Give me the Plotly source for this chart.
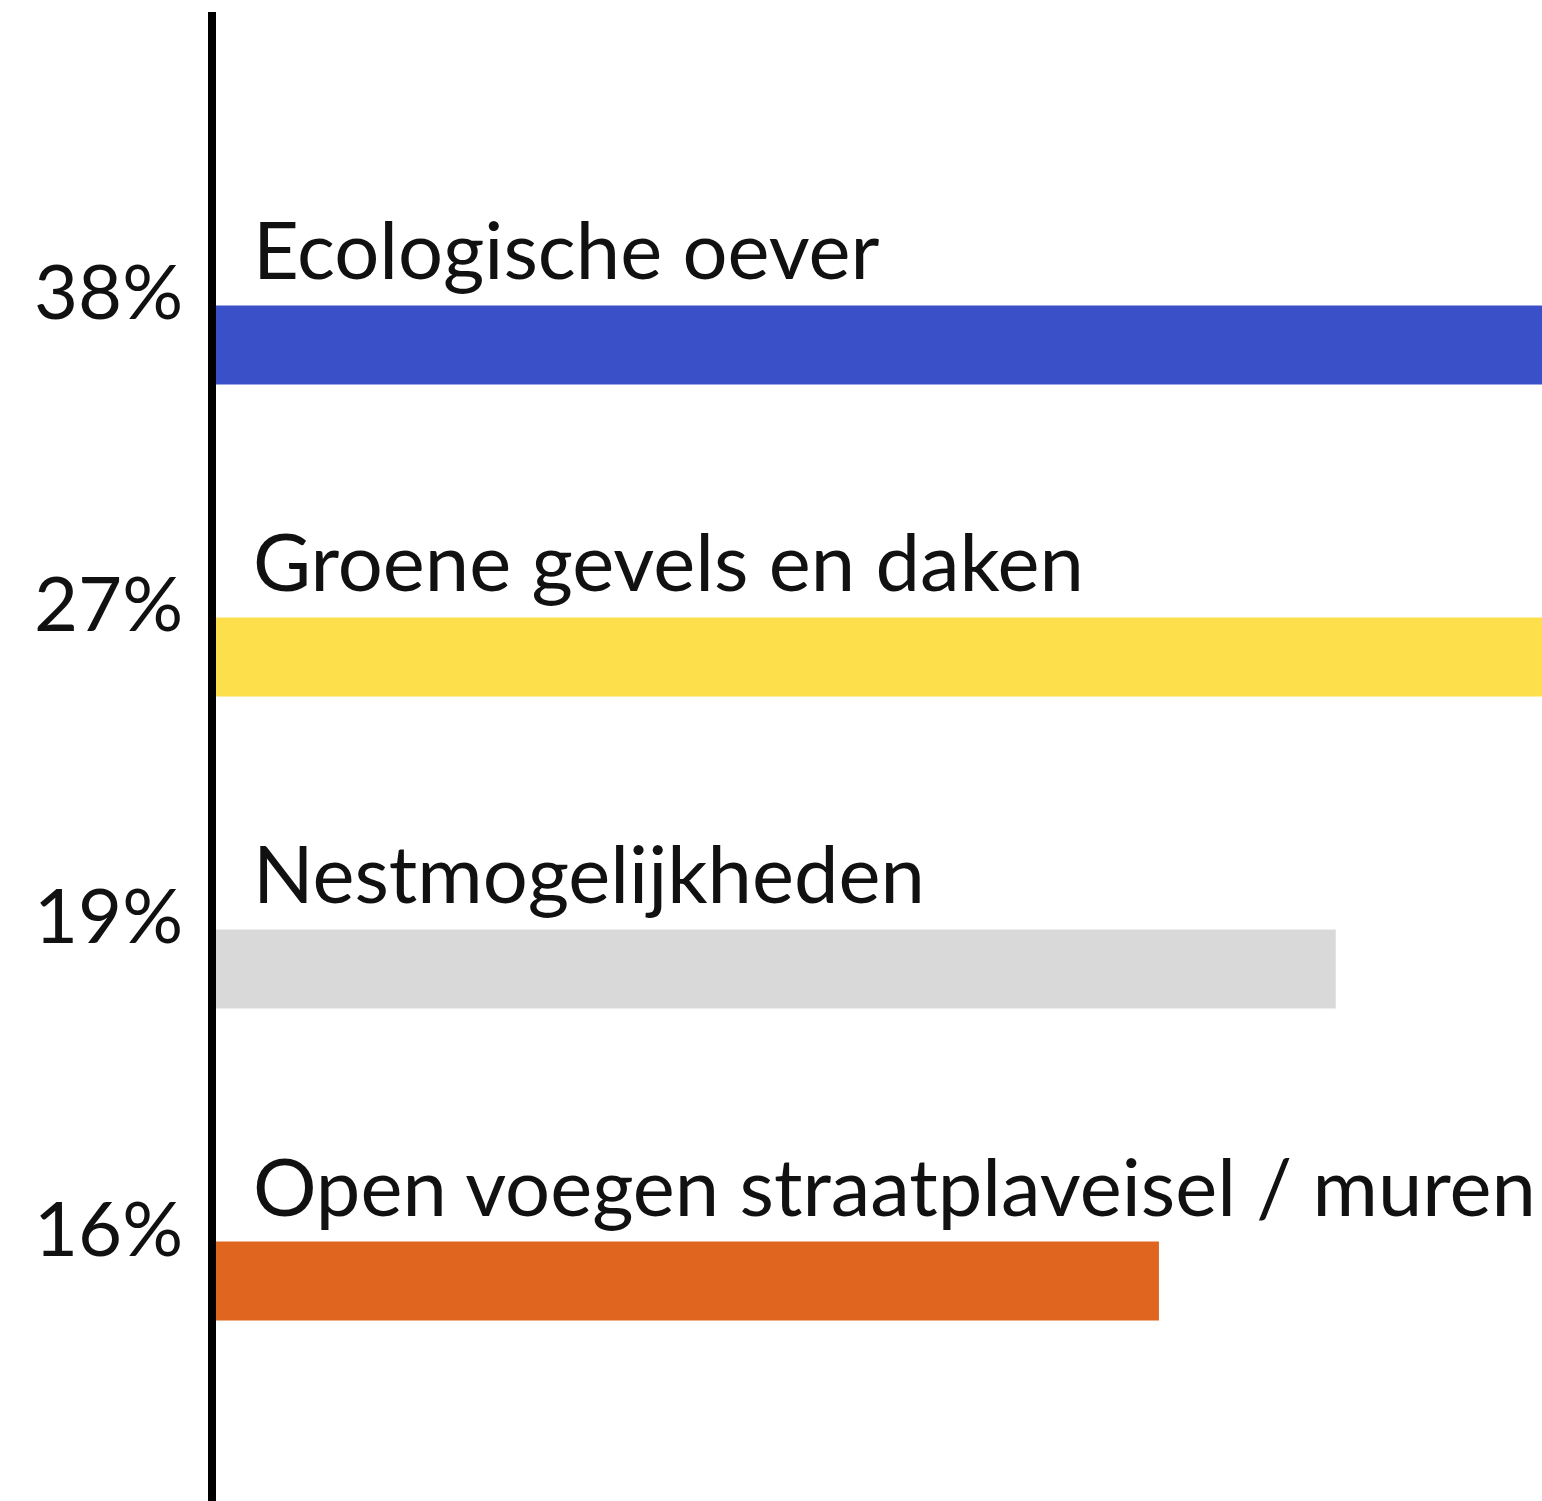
import plotly.graph_objects as go

categories = ["Ecologische oever", "Groene gevels en daken", "Nestmogelijkheden",
              "Open voegen straatplaveisel / muren"]
values = [38, 27, 19, 16]
value_labels = ["38%", "27%", "19%", "16%"]
colors = ["#3A50C8", "#FDDF4B", "#D9D9D9", "#E0651F"]

FONT = "Lato"
positions = list(range(len(categories)))

fig = go.Figure()
fig.add_trace(go.Bar(
    x=values, y=positions, orientation="h",
    marker=dict(color=colors, line=dict(width=0)),
    width=0.253, hoverinfo="skip",
))

for pos, cat, lab in zip(positions, categories, value_labels):
    fig.add_annotation(x=0, y=pos, xref="x", yref="y", text=cat, showarrow=False,
                       xanchor="left", yanchor="middle", xshift=35, yshift=96,
                       font=dict(family=FONT, size=79.5, color="#111111"))
    fig.add_annotation(x=0, y=pos, xref="x", yref="y", text=lab, showarrow=False,
                       xanchor="right", yanchor="middle", xshift=-31, yshift=55,
                       font=dict(family=FONT, size=76, color="#111111"))

fig.update_layout(
    width=1542, height=1501,
    margin=dict(l=216, r=0, t=12, b=0),
    paper_bgcolor="white", plot_bgcolor="white",
    showlegend=False,
    xaxis=dict(visible=False, range=[0, 22.5]),
    yaxis=dict(range=[3.705, -1.067], showline=True, linewidth=8, linecolor="#000000",
               showticklabels=False, ticks="", showgrid=False, zeroline=False),
)

fig.write_html("out.html", config={"displayModeBar": False},
               post_script="document.body.style.margin='0';document.body.style.overflow='hidden';")
